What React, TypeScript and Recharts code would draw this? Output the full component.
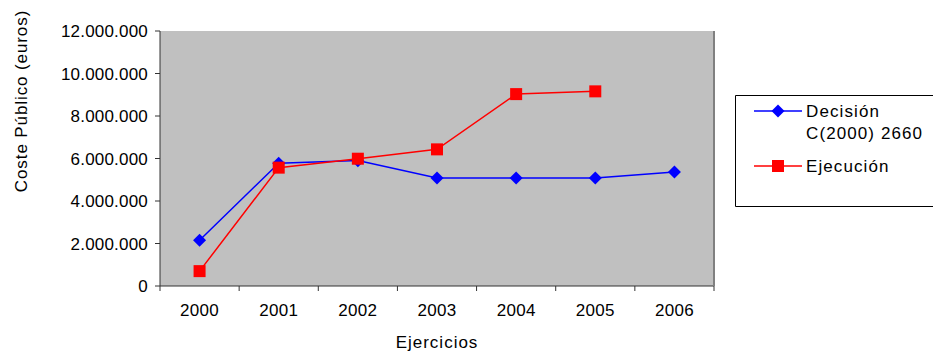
import React from 'react';
import {
  LineChart,
  Line,
  XAxis,
  YAxis,
  CartesianGrid,
} from 'recharts';

const years = ['2000', '2001', '2002', '2003', '2004', '2005', '2006'];
const decisionValues = [2150000, 5780000, 5900000, 5080000, 5080000, 5080000, 5360000];
const ejecucionValues: (number | null)[] = [700000, 5570000, 5990000, 6430000, 9030000, 9160000, null];
const yTicks = [0, 2000000, 4000000, 6000000, 8000000, 10000000, 12000000];

const DECISION_NAME = 'Decisión C(2000) 2660';
const EJECUCION_NAME = 'Ejecución';
const DECISION_COLOR = '#0000FF';
const EJECUCION_COLOR = '#FF0000';

const FONT = '"Liberation Sans", Arial, sans-serif';

// plot box in page pixels
const PLOT_LEFT = 160;
const PLOT_RIGHT = 714;
const PLOT_TOP = 31;
const PLOT_BOTTOM = 286;
const BAND = (PLOT_RIGHT - PLOT_LEFT) / years.length;

const data = years.map((year, i) => ({
  year,
  decision: decisionValues[i],
  ejecucion: ejecucionValues[i],
}));

const formatEuros = (v: number) => String(v).replace(/\B(?=(\d{3})+(?!\d))/g, '.');

const Diamond = (props: any) => {
  const { cx, cy, value } = props;
  if (cx == null || cy == null || value == null) return null;
  const r = 6.5;
  return (
    <path
      d={`M${cx},${cy - r} L${cx + r},${cy} L${cx},${cy + r} L${cx - r},${cy} Z`}
      fill={DECISION_COLOR}
      stroke="none"
    />
  );
};

const Square = (props: any) => {
  const { cx, cy, value } = props;
  if (cx == null || cy == null || value == null) return null;
  return <rect x={cx - 6} y={cy - 6} width={12} height={12} fill={EJECUCION_COLOR} stroke="none" />;
};

const YearTick = (props: any) => {
  const { x, payload, index } = props;
  const isLast = index === years.length - 1;
  return (
    <g>
      <line x1={x - BAND / 2} x2={x - BAND / 2} y1={PLOT_BOTTOM} y2={PLOT_BOTTOM + 5} stroke="#333" />
      {isLast && (
        <line x1={x + BAND / 2} x2={x + BAND / 2} y1={PLOT_BOTTOM} y2={PLOT_BOTTOM + 5} stroke="#333" />
      )}
      <text
        x={x}
        y={PLOT_BOTTOM + 30}
        textAnchor="middle"
        fontFamily={FONT}
        fontSize={17}
        letterSpacing={0.3}
        fill="#000"
      >
        {payload.value}
      </text>
    </g>
  );
};

const LegendBox = () => {
  const textStyle = { fontFamily: FONT, fontSize: 17, letterSpacing: 1.1, fill: '#000' };
  return (
    <svg width={198} height={112} style={{ position: 'absolute', left: 735, top: 95, display: 'block' }}>
      <polyline points="198,0.5 0.5,0.5 0.5,111.5 198,111.5" fill="none" stroke="#000" strokeWidth={1} />
      <line x1={19} x2={67} y1={16} y2={16} stroke={DECISION_COLOR} strokeWidth={1.5} />
      <path d="M43,9.5 L49.5,16 L43,22.5 L36.5,16 Z" fill={DECISION_COLOR} />
      <text x={71} y={21.8} {...textStyle}>Decisión</text>
      <text x={71} y={44} {...textStyle}>C(2000) 2660</text>
      <line x1={19} x2={67} y1={71} y2={71} stroke={EJECUCION_COLOR} strokeWidth={1.5} />
      <rect x={37} y={65} width={12} height={12} fill={EJECUCION_COLOR} />
      <text x={71} y={77} {...textStyle}>{EJECUCION_NAME}</text>
    </svg>
  );
};

export default function App() {
  return (
    <div style={{ position: 'absolute', left: 0, top: 0, width: 933, height: 354, background: '#fff' }}>
      <LineChart
        width={933}
        height={354}
        data={data}
        margin={{ top: PLOT_TOP, right: 933 - PLOT_RIGHT - 1, bottom: 0, left: 0 }}
      >
        <CartesianGrid fill="#C0C0C0" horizontal={false} vertical={false} />
        <XAxis
          dataKey="year"
          height={354 - PLOT_BOTTOM}
          padding={{ left: BAND / 2, right: BAND / 2 }}
          axisLine={{ stroke: '#333' }}
          tickLine={false}
          tick={<YearTick />}
          interval={0}
          label={{
            value: 'Ejercicios',
            position: 'insideBottom',
            offset: 6,
            style: { fontFamily: FONT, fontSize: 17, letterSpacing: 1, fill: '#000' },
          }}
        />
        <XAxis
          xAxisId="top"
          dataKey="year"
          orientation="top"
          height={0}
          tick={false}
          tickLine={false}
          axisLine={{ stroke: '#d4d4d4' }}
        />
        <YAxis
          width={PLOT_LEFT}
          domain={[0, 12000000]}
          ticks={yTicks}
          interval={0}
          tickFormatter={formatEuros}
          tickSize={5}
          tickMargin={7}
          axisLine={{ stroke: '#333' }}
          tickLine={{ stroke: '#333' }}
          tick={{ fontFamily: FONT, fontSize: 17, letterSpacing: 0.2, fill: '#000' }}
          label={{
            content: () => (
              <text
                x={27}
                y={101}
                transform="rotate(-90 27 101)"
                textAnchor="middle"
                fontFamily={FONT}
                fontSize={17}
                letterSpacing={0.9}
                fill="#000"
              >
                Coste Público (euros)
              </text>
            ),
          }}
        />
        <YAxis
          yAxisId="right"
          orientation="right"
          width={1}
          domain={[0, 12000000]}
          tick={false}
          tickLine={false}
          axisLine={{ stroke: '#808080', strokeWidth: 2 }}
        />
        <Line
          type="linear"
          dataKey="decision"
          name={DECISION_NAME}
          stroke={DECISION_COLOR}
          strokeWidth={1.5}
          dot={<Diamond />}
          activeDot={false}
          isAnimationActive={false}
        />
        <Line
          type="linear"
          dataKey="ejecucion"
          name={EJECUCION_NAME}
          stroke={EJECUCION_COLOR}
          strokeWidth={1.5}
          dot={<Square />}
          activeDot={false}
          isAnimationActive={false}
        />
      </LineChart>
      <LegendBox />
    </div>
  );
}
